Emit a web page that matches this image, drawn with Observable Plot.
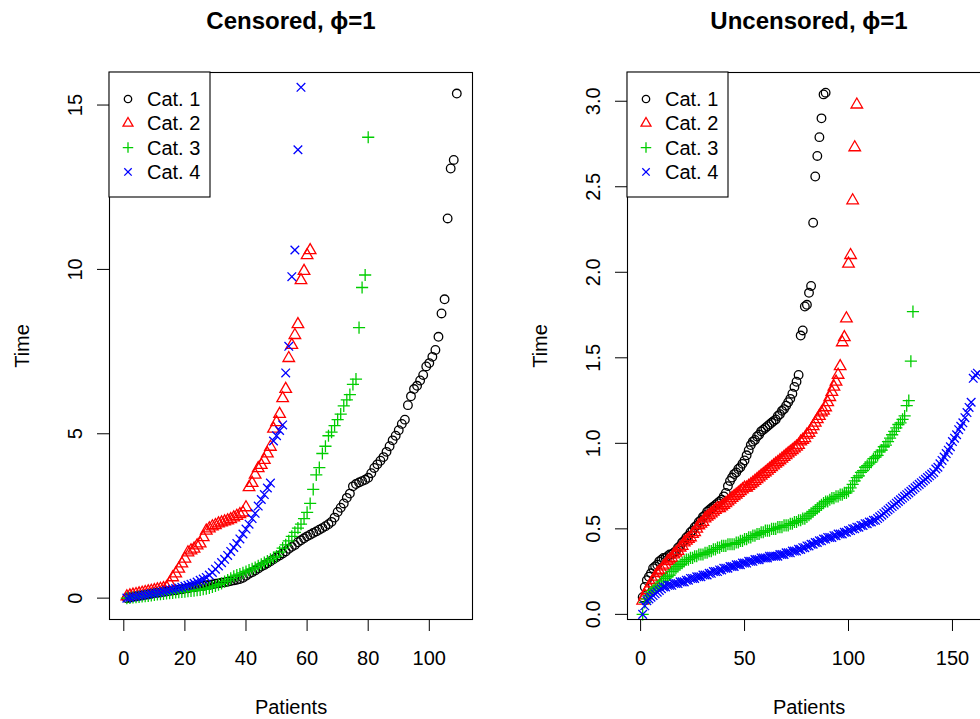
<!DOCTYPE html>
<html><head><meta charset="utf-8">
<script src="https://cdn.jsdelivr.net/npm/d3@7"></script>
<script src="https://cdn.jsdelivr.net/npm/@observablehq/plot@0.6"></script>
<style>
html,body{margin:0;padding:0;background:#fff;overflow:hidden;width:980px;height:719px;}
#wrap{position:relative;width:1036px;height:719px;}
#wrap > svg{position:absolute;top:0;}
</style></head><body><div id="wrap"></div>
<script>
const categories = ["Cat. 1","Cat. 2","Cat. 3","Cat. 4"];
const colors = ["#000000","#FF0000","#00CD00","#0000FF"];
const titles = ["Censored, \u03D5=1","Uncensored, \u03D5=1"];
const xLabel = "Patients";
const yLabel = "Time";
const censoredXTicks = [0,20,40,60,80,100];
const censoredYTicks = [0,5,10,15];
const uncensoredXTicks = [0,50,100,150];
const uncensoredYTicks = [0,0.5,1,1.5,2,2.5,3];

// Censored panel: time of each patient (patient = position in list, 1-based)
const censoredCat1 = [0.00,0.02,0.04,0.05,0.07,0.08,0.10,0.11,0.13,0.15,
 0.16,0.17,0.19,0.20,0.22,0.23,0.24,0.26,0.27,0.29,
 0.30,0.32,0.33,0.35,0.36,0.37,0.39,0.40,0.42,0.44,
 0.45,0.47,0.48,0.50,0.52,0.54,0.56,0.58,0.62,0.68,
 0.74,0.79,0.84,0.90,0.96,1.01,1.06,1.12,1.18,1.24,
 1.30,1.36,1.42,1.50,1.56,1.62,1.70,1.76,1.82,1.88,
 1.93,1.98,2.03,2.08,2.13,2.19,2.25,2.32,2.45,2.62,
 2.75,2.88,3.05,3.18,3.40,3.47,3.52,3.56,3.60,3.66,
 3.80,3.96,4.07,4.18,4.29,4.45,4.62,4.80,4.94,5.11,
 5.30,5.43,5.87,6.14,6.36,6.46,6.62,6.79,7.05,7.15,
 7.34,7.55,7.95,8.66,9.09,11.55,13.07,13.33,15.35];
const censoredCat2 = [0.05,0.08,0.10,0.12,0.14,0.16,0.18,0.20,0.22,0.24,
 0.26,0.28,0.30,0.33,0.45,0.63,0.75,0.89,1.05,1.20,
 1.39,1.45,1.50,1.60,1.66,1.85,2.05,2.12,2.18,2.22,
 2.27,2.30,2.33,2.36,2.40,2.45,2.50,2.55,2.60,2.76,
 3.37,3.50,3.75,3.95,4.05,4.20,4.40,4.60,5.15,5.35,
 5.60,6.08,6.36,7.30,7.70,8.00,8.33,9.67,9.95,10.43,
 10.58];
const censoredCat3 = [0.00,0.01,0.02,0.03,0.04,0.05,0.06,0.07,0.08,0.10,
 0.11,0.12,0.13,0.14,0.15,0.16,0.17,0.18,0.19,0.20,
 0.21,0.22,0.23,0.24,0.25,0.27,0.29,0.31,0.34,0.37,
 0.41,0.45,0.50,0.55,0.60,0.66,0.70,0.73,0.77,0.81,
 0.85,0.89,0.93,0.98,1.03,1.08,1.13,1.18,1.23,1.28,
 1.40,1.52,1.62,1.74,1.88,2.00,2.13,2.25,2.42,2.61,
 2.88,3.31,3.75,3.97,4.40,4.62,4.94,5.05,5.25,5.43,
 5.60,5.85,6.03,6.19,6.50,6.66,8.23,9.45,9.83,14.02];
const censoredCat4 = [0.00,0.02,0.04,0.05,0.07,0.09,0.10,0.12,0.14,0.15,
 0.17,0.19,0.21,0.23,0.25,0.27,0.29,0.31,0.33,0.36,
 0.39,0.42,0.45,0.49,0.54,0.58,0.63,0.70,0.78,0.88,
 0.98,1.08,1.18,1.30,1.42,1.54,1.66,1.80,1.95,2.10,
 2.25,2.42,2.58,2.80,3.00,3.15,3.35,3.50,4.78,4.94,
 5.10,5.27,6.85,7.66,9.78,10.59,13.64,15.54];

// Uncensored panel
const uncensoredCat1 = [0.10,0.16,0.20,0.22,0.24,0.27,0.28,0.29,0.31,0.32,
 0.33,0.33,0.34,0.35,0.35,0.36,0.37,0.39,0.40,0.42,
 0.43,0.45,0.46,0.48,0.49,0.51,0.52,0.54,0.55,0.57,
 0.58,0.60,0.61,0.62,0.63,0.64,0.65,0.66,0.67,0.69,
 0.71,0.75,0.78,0.80,0.82,0.83,0.85,0.86,0.88,0.90,
 0.93,0.96,0.99,1.01,1.02,1.04,1.05,1.07,1.08,1.09,
 1.10,1.11,1.12,1.13,1.14,1.16,1.17,1.19,1.20,1.22,
 1.24,1.26,1.29,1.33,1.36,1.40,1.63,1.66,1.80,1.81,
 1.88,1.92,2.29,2.56,2.68,2.79,2.90,3.04,3.05];
const uncensoredCat2 = [0.08,0.11,0.14,0.16,0.18,0.20,0.22,0.24,0.25,0.26,
 0.28,0.29,0.31,0.32,0.33,0.35,0.36,0.37,0.39,0.40,
 0.42,0.43,0.44,0.45,0.47,0.48,0.50,0.52,0.53,0.54,
 0.56,0.57,0.58,0.59,0.60,0.61,0.62,0.62,0.63,0.64,
 0.65,0.66,0.67,0.68,0.69,0.70,0.71,0.72,0.73,0.74,
 0.74,0.75,0.76,0.77,0.78,0.79,0.80,0.81,0.82,0.83,
 0.84,0.85,0.86,0.87,0.88,0.89,0.90,0.91,0.92,0.93,
 0.94,0.95,0.96,0.97,0.98,0.99,1.01,1.02,1.03,1.05,
 1.06,1.08,1.10,1.12,1.14,1.16,1.18,1.19,1.21,1.24,
 1.27,1.30,1.33,1.36,1.40,1.45,1.59,1.62,1.73,2.05,
 2.10,2.42,2.73,2.98];
const uncensoredCat3 = [0.00,0.07,0.09,0.11,0.13,0.14,0.15,0.16,0.17,0.19,
 0.20,0.21,0.22,0.23,0.25,0.26,0.27,0.28,0.29,0.30,
 0.31,0.32,0.32,0.33,0.33,0.34,0.34,0.35,0.35,0.35,
 0.36,0.36,0.37,0.37,0.38,0.38,0.39,0.39,0.40,0.40,
 0.40,0.41,0.41,0.41,0.41,0.42,0.42,0.43,0.43,0.44,
 0.44,0.45,0.45,0.46,0.46,0.47,0.47,0.48,0.48,0.49,
 0.49,0.49,0.50,0.50,0.50,0.51,0.51,0.51,0.52,0.52,
 0.52,0.53,0.53,0.54,0.54,0.55,0.55,0.56,0.56,0.57,
 0.58,0.59,0.60,0.61,0.62,0.63,0.64,0.65,0.66,0.66,
 0.67,0.68,0.68,0.69,0.69,0.70,0.70,0.71,0.71,0.72,
 0.74,0.76,0.78,0.80,0.81,0.83,0.84,0.86,0.87,0.88,
 0.89,0.91,0.92,0.93,0.95,0.96,0.98,0.99,1.01,1.03,
 1.05,1.07,1.09,1.11,1.12,1.14,1.16,1.22,1.25,1.48,
 1.77];
const uncensoredCat4 = [0.00,0.05,0.08,0.09,0.10,0.11,0.12,0.13,0.14,0.15,
 0.16,0.16,0.17,0.17,0.17,0.18,0.18,0.18,0.19,0.19,
 0.19,0.20,0.20,0.21,0.21,0.21,0.22,0.22,0.22,0.23,
 0.23,0.23,0.24,0.24,0.25,0.25,0.25,0.26,0.26,0.27,
 0.27,0.27,0.28,0.28,0.28,0.29,0.29,0.29,0.30,0.30,
 0.30,0.31,0.31,0.31,0.32,0.32,0.32,0.33,0.33,0.33,
 0.33,0.34,0.34,0.34,0.34,0.34,0.35,0.35,0.35,0.36,
 0.36,0.36,0.37,0.37,0.37,0.38,0.38,0.39,0.39,0.40,
 0.40,0.41,0.41,0.42,0.42,0.43,0.43,0.44,0.44,0.45,
 0.45,0.45,0.46,0.46,0.47,0.47,0.47,0.48,0.48,0.49,
 0.49,0.50,0.50,0.51,0.51,0.52,0.52,0.53,0.53,0.54,
 0.54,0.55,0.55,0.56,0.57,0.58,0.59,0.60,0.61,0.62,
 0.63,0.64,0.65,0.66,0.67,0.68,0.69,0.70,0.71,0.72,
 0.73,0.74,0.75,0.76,0.77,0.78,0.79,0.80,0.81,0.82,
 0.83,0.85,0.86,0.88,0.90,0.92,0.94,0.96,0.98,1.01,
 1.03,1.05,1.08,1.10,1.12,1.15,1.18,1.21,1.24,1.38,
 1.40,1.41];

// R-like plotting symbols (pch 1, 2, 3, 4); R = sqrt(size/pi)
const rad = s => Math.sqrt(s / Math.PI);
const symCircle = {draw(c, s){const R = rad(s); c.moveTo(R, 0); c.arc(0, 0, R, 0, 2*Math.PI);}};
const symTriangle = {draw(c, s){const R = rad(s); c.moveTo(0, -1.555*R); c.lineTo(1.347*R, 0.778*R); c.lineTo(-1.347*R, 0.778*R); c.closePath();}};
const symPlus = {draw(c, s){const R = rad(s)*1.414; c.moveTo(-R, 0); c.lineTo(R, 0); c.moveTo(0, -R); c.lineTo(0, R);}};
const symTimes = {draw(c, s){const R = rad(s); c.moveTo(-R, -R); c.lineTo(R, R); c.moveTo(-R, R); c.lineTo(R, -R);}};
const symbols = [symCircle, symTriangle, symPlus, symTimes];

const FONT = "'Liberation Sans', Arial, Helvetica, sans-serif";

function panel({title, series, xDomain, yDomain, xTicks, yTicks, yFmt}) {
  const marks = [];
  series.forEach((vals, k) => {
    const rows = vals.map((t, i) => ({patient: i + 1, time: t}));
    marks.push(Plot.dot(rows, {x: "patient", y: "time", symbol: symbols[k], r: 4.3,
      stroke: colors[k], fill: "none", strokeWidth: 1.3}));
  });
  marks.push(Plot.frame({stroke: "#000", strokeWidth: 1.1}));
  marks.push(Plot.axisX(xTicks, {tickSize: 12, tickPadding: 19, fontSize: 20, label: null, stroke: "#000", fill: "#000"}));
  marks.push(Plot.axisY(yTicks, {tickSize: 12, tickFormat: () => "", label: null, stroke: "#000"}));
  marks.push(Plot.text(yTicks, {y: d => d, text: d => yFmt(d), frameAnchor: "left", dx: -28, rotate: -90,
    textAnchor: "middle", lineAnchor: "bottom", fontSize: 20, fill: "#000"}));
  marks.push(Plot.text([title], {text: d => d, frameAnchor: "top", dy: -44, lineAnchor: "bottom",
    fontSize: 24, fontWeight: "bold", fill: "#000"}));
  marks.push(Plot.text([xLabel], {text: d => d, frameAnchor: "bottom", dy: 88, lineAnchor: "middle",
    fontSize: 20, fill: "#000"}));
  marks.push(Plot.text([yLabel], {text: d => d, frameAnchor: "left", dx: -87, rotate: -90,
    textAnchor: "middle", lineAnchor: "middle", fontSize: 20, fill: "#000"}));
  const svg = Plot.plot({
    width: 518, height: 719,
    marginTop: 72, marginBottom: 100, marginLeft: 109, marginRight: 46,
    x: {domain: xDomain, label: null},
    y: {domain: yDomain, label: null},
    style: {fontFamily: FONT, fontSize: "20px", background: "transparent", color: "#000", overflow: "visible"},
    marks
  });
  // legend (top-left, boxed, like R's legend())
  const g = d3.select(svg).append("g").attr("font-family", FONT).attr("font-size", 20)
    .attr("text-anchor", "start");
  g.append("rect").attr("x", 109).attr("y", 72).attr("width", 101).attr("height", 125)
    .attr("fill", "white").attr("stroke", "#000").attr("stroke-width", 1.1);
  categories.forEach((cat, k) => {
    const yy = 99 + k * 24.3;
    g.append("path").attr("transform", `translate(128,${yy})`)
      .attr("d", d3.symbol(symbols[k], Math.PI * 3.7 * 3.7)())
      .attr("fill", "none").attr("stroke", colors[k]).attr("stroke-width", 1.3);
    g.append("text").attr("x", 147).attr("y", yy).attr("dy", "0.35em")
      .attr("text-anchor", "start").attr("fill", "#000").text(cat);
  });
  return svg;
}

const wrap = document.getElementById("wrap");
const left = panel({
  title: titles[0],
  series: [censoredCat1, censoredCat2, censoredCat3, censoredCat4],
  xDomain: [-4.68, 114.14], yDomain: [-0.65, 15.99],
  xTicks: censoredXTicks, yTicks: censoredYTicks, yFmt: d3.format("d")
});
left.style.left = "0px";
wrap.appendChild(left);
const right = panel({
  title: titles[1],
  series: [uncensoredCat1, uncensoredCat2, uncensoredCat3, uncensoredCat4],
  xDomain: [-6.3, 168.3], yDomain: [-0.03, 3.168],
  xTicks: uncensoredXTicks, yTicks: uncensoredYTicks, yFmt: d3.format(".1f")
});
right.style.left = "518px";
wrap.appendChild(right);
</script></body></html>
